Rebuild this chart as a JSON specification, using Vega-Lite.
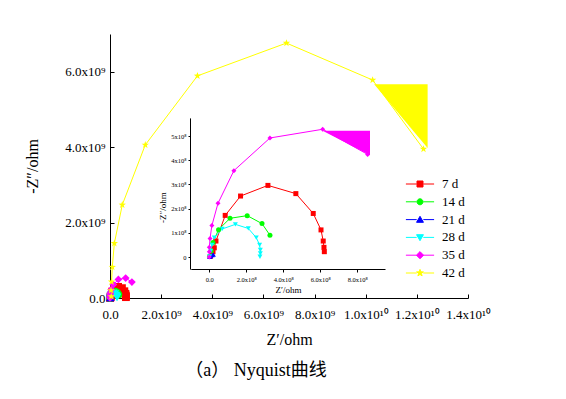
{
  "$schema": "https://vega.github.io/schema/vega-lite/v6.json",
  "width": 358,
  "height": 264,
  "autosize": {"type": "none"},
  "padding": {"left": 110, "top": 34, "right": 98, "bottom": 101},
  "background": "white",
  "config": {
    "view": {"stroke": null},
    "font": "Liberation Serif",
    "axis": {"grid": false, "domainColor": "black", "tickColor": "black", "labelColor": "black", "titleColor": "black", "labelFont": "Liberation Serif", "titleFont": "Liberation Serif", "titleFontWeight": "normal", "domainWidth": 1, "tickWidth": 1, "labelFlush": false, "labelOverlap": false}
  },
  "title": {"text": "（a）     Nyquist曲线", "orient": "bottom", "anchor": "middle", "frame": "group", "offset": 15, "dx": -33, "fontSize": 18, "font": "Liberation Serif, Noto Sans CJK SC", "fontWeight": "normal", "color": "black"},
  "datasets": {
    "nyq": [
      {"s": "7 d", "x": 0.05e8, "y": 0.02e8},
      {"s": "7 d", "x": 0.12e8, "y": 0.10e8},
      {"s": "7 d", "x": 0.20e8, "y": 0.22e8},
      {"s": "7 d", "x": 0.27e8, "y": 0.38e8},
      {"s": "7 d", "x": 0.36e8, "y": 0.66e8},
      {"s": "7 d", "x": 0.86e8, "y": 1.72e8},
      {"s": "7 d", "x": 1.69e8, "y": 2.52e8},
      {"s": "7 d", "x": 3.17e8, "y": 2.96e8},
      {"s": "7 d", "x": 4.68e8, "y": 2.62e8},
      {"s": "7 d", "x": 5.62e8, "y": 1.80e8},
      {"s": "7 d", "x": 6.04e8, "y": 1.12e8},
      {"s": "7 d", "x": 6.16e8, "y": 0.66e8},
      {"s": "7 d", "x": 6.20e8, "y": 0.40e8},
      {"s": "7 d", "x": 6.22e8, "y": 0.22e8},
      {"s": "14 d", "x": 0.03e8, "y": 0.03e8},
      {"s": "14 d", "x": 0.10e8, "y": 0.25e8},
      {"s": "14 d", "x": 0.20e8, "y": 0.60e8},
      {"s": "14 d", "x": 0.50e8, "y": 1.13e8},
      {"s": "14 d", "x": 1.12e8, "y": 1.60e8},
      {"s": "14 d", "x": 2.05e8, "y": 1.71e8},
      {"s": "14 d", "x": 2.85e8, "y": 1.38e8},
      {"s": "14 d", "x": 3.28e8, "y": 0.90e8},
      {"s": "21 d", "x": 0.02e8, "y": 0.01e8},
      {"s": "21 d", "x": 0.08e8, "y": 0.04e8},
      {"s": "21 d", "x": 0.16e8, "y": 0.08e8},
      {"s": "21 d", "x": 0.22e8, "y": 0.10e8},
      {"s": "28 d", "x": 0.02e8, "y": 0.02e8},
      {"s": "28 d", "x": 0.08e8, "y": 0.25e8},
      {"s": "28 d", "x": 0.15e8, "y": 0.50e8},
      {"s": "28 d", "x": 0.27e8, "y": 0.80e8},
      {"s": "28 d", "x": 0.70e8, "y": 1.16e8},
      {"s": "28 d", "x": 1.41e8, "y": 1.35e8},
      {"s": "28 d", "x": 2.11e8, "y": 1.18e8},
      {"s": "28 d", "x": 2.54e8, "y": 0.80e8},
      {"s": "28 d", "x": 2.72e8, "y": 0.50e8},
      {"s": "28 d", "x": 2.76e8, "y": 0.29e8},
      {"s": "28 d", "x": 2.76e8, "y": 0.15e8},
      {"s": "28 d", "x": 2.74e8, "y": 0.01e8},
      {"s": "35 d", "x": 0.0, "y": 0.0},
      {"s": "35 d", "x": 0.0, "y": 0.22e8},
      {"s": "35 d", "x": 0.0, "y": 0.40e8},
      {"s": "35 d", "x": 0.04e8, "y": 0.77e8},
      {"s": "35 d", "x": 0.14e8, "y": 1.30e8},
      {"s": "35 d", "x": 0.47e8, "y": 2.22e8},
      {"s": "35 d", "x": 1.33e8, "y": 3.57e8},
      {"s": "35 d", "x": 3.28e8, "y": 4.92e8},
      {"s": "35 d", "x": 6.13e8, "y": 5.28e8},
      {"s": "35 d", "x": 8.56e8, "y": 4.24e8},
      {"s": "42 d", "x": 0.05e9, "y": 0.04e9},
      {"s": "42 d", "x": 0.04e9, "y": 0.20e9},
      {"s": "42 d", "x": 0.06e9, "y": 0.43e9},
      {"s": "42 d", "x": 0.09e9, "y": 0.82e9},
      {"s": "42 d", "x": 0.17e9, "y": 1.45e9},
      {"s": "42 d", "x": 0.48e9, "y": 2.47e9},
      {"s": "42 d", "x": 1.38e9, "y": 4.06e9},
      {"s": "42 d", "x": 3.42e9, "y": 5.89e9},
      {"s": "42 d", "x": 6.90e9, "y": 6.76e9},
      {"s": "42 d", "x": 10.27e9, "y": 5.78e9},
      {"s": "42 d", "x": 12.26e9, "y": 3.95e9}
    ],
    "fillMain": [
      {"x": 10.33e9, "y": 5.67e9, "y2": 5.67e9},
      {"x": 12.42e9, "y": 3.98e9, "y2": 5.67e9}
    ],
    "fillInset": [
      {"x": 6.13e8, "y": 5.22e8, "y2": 5.22e8},
      {"x": 8.69e8, "y": 4.21e8, "y2": 5.22e8}
    ]
  },
  "layer": [
    {
      "layer": [
        {
          "data": {"name": "fillMain"},
          "mark": {"type": "area", "color": "#FFFF00", "opacity": 1},
          "encoding": {
            "x": {"field": "x", "type": "quantitative", "scale": {"domain": [0, 1.4e10], "nice": false, "zero": false},
              "axis": {"orient": "bottom", "title": "Z′/ohm", "values": [0, 1e9, 2e9, 3e9, 4e9, 5e9, 6e9, 7e9, 8e9, 9e9, 1e10, 1.1e10, 1.2e10, 1.3e10, 1.4e10],
                "labelExpr": "datum.value == 0 ? '0.0' : (datum.value % 2e9 != 0 ? '' : (datum.value < 1e10 ? format(datum.value/1e9, '.1f') + 'x10⁹' : format(datum.value/1e10, '.1f') + 'x10¹⁰'))",
                "labelOverlap": false, "tickSize": -4, "labelPadding": 14, "labelFontSize": 13, "titleFontSize": 16, "titlePadding": 10}},
            "y": {"field": "y", "type": "quantitative", "scale": {"domain": [0, 7e9], "nice": false, "zero": false},
              "axis": {"orient": "left", "title": "-Z″/ohm", "values": [0, 1e9, 2e9, 3e9, 4e9, 5e9, 6e9, 7e9],
                "labelExpr": "datum.value == 0 ? '0.0' : (datum.value % 2e9 != 0 ? '' : format(datum.value/1e9, '.1f') + 'x10⁹')",
                "labelOverlap": false, "tickSize": -4, "labelPadding": 9, "labelFontSize": 13, "titleFontSize": 16, "titlePadding": 24}},
            "y2": {"field": "y2"}
          }
        },
        {
          "data": {"name": "nyq"},
          "mark": {"type": "line", "strokeWidth": 1},
          "encoding": {
            "x": {"field": "x", "type": "quantitative"},
            "y": {"field": "y", "type": "quantitative"},
            "color": {"field": "s", "type": "nominal", "scale": {"domain": ["7 d", "14 d", "21 d", "28 d", "35 d", "42 d"], "range": ["#FF0000", "#00FF00", "#0000FF", "#00FFFF", "#FF00FF", "#FFFF00"]}, "legend": null},
            "order": {"value": null}
          }
        },
        {
          "data": {"name": "nyq"},
          "mark": {"type": "point", "filled": true, "size": 60, "opacity": 1},
          "encoding": {
            "x": {"field": "x", "type": "quantitative"},
            "y": {"field": "y", "type": "quantitative"},
            "color": {"field": "s", "type": "nominal", "scale": {"domain": ["7 d", "14 d", "21 d", "28 d", "35 d", "42 d"], "range": ["#FF0000", "#00FF00", "#0000FF", "#00FFFF", "#FF00FF", "#FFFF00"]}, "legend": null},
            "shape": {"field": "s", "type": "nominal", "scale": {"domain": ["7 d", "14 d", "21 d", "28 d", "35 d", "42 d"], "range": ["square", "circle", "triangle-up", "triangle-down", "diamond", "M0,-1L0.235,-0.324L0.951,-0.309L0.38,0.124L0.588,0.809L0,0.4L-0.588,0.809L-0.38,0.124L-0.951,-0.309L-0.235,-0.324Z"]}, "legend": null}
          }
        }
      ]
    },
    {
      "layer": [
        {
          "data": {"name": "fillInset"},
          "mark": {"type": "area", "color": "#FF00FF", "opacity": 1},
          "encoding": {
            "x": {"field": "x", "type": "quantitative", "scale": {"domain": [-1e8, 9.5e8], "range": [80.8, 275], "nice": false, "zero": false},
              "axis": {"orient": "bottom", "offset": -29, "zindex": 1, "title": "Z′/ohm", "values": [0, 1e8, 2e8, 3e8, 4e8, 5e8, 6e8, 7e8, 8e8, 9e8],
                "labelExpr": "datum.value == 0 ? '0.0' : (datum.value % 2e8 != 0 ? '' : format(datum.value/1e8, '.1f') + 'x10⁸')",
                "labelOverlap": false, "tickSize": 3, "labelPadding": 4, "labelFontSize": 6.5, "titleFontSize": 9, "titlePadding": 3}},
            "y": {"field": "y", "type": "quantitative", "scale": {"domain": [-0.5e8, 5.75e8], "range": [235.1, 83.9], "nice": false, "zero": false},
              "axis": {"orient": "left", "offset": -80, "zindex": 1, "title": "-Z″/ohm", "titleY": 173, "values": [0, 0.5e8, 1e8, 1.5e8, 2e8, 2.5e8, 3e8, 3.5e8, 4e8, 4.5e8, 5e8, 5.5e8],
                "labelExpr": "datum.value == 0 ? '0' : (datum.value % 1e8 != 0 ? '' : format(datum.value/1e8, 'd') + 'x10⁸')",
                "labelOverlap": false, "tickSize": 2, "labelPadding": 2, "labelFontSize": 6.5, "titleFontSize": 9, "titlePadding": 3}},
            "y2": {"field": "y2"}
          }
        },
        {
          "data": {"name": "nyq"},
          "transform": [{"filter": "datum.s != '42 d'"}],
          "mark": {"type": "line", "strokeWidth": 1},
          "encoding": {
            "x": {"field": "x", "type": "quantitative"},
            "y": {"field": "y", "type": "quantitative"},
            "color": {"field": "s", "type": "nominal", "scale": {"domain": ["7 d", "14 d", "21 d", "28 d", "35 d", "42 d"], "range": ["#FF0000", "#00FF00", "#0000FF", "#00FFFF", "#FF00FF", "#FFFF00"]}, "legend": null},
            "order": {"value": null}
          }
        },
        {
          "data": {"name": "nyq"},
          "transform": [{"filter": "datum.s != '42 d'"}],
          "mark": {"type": "point", "filled": true, "size": 25, "opacity": 1},
          "encoding": {
            "x": {"field": "x", "type": "quantitative"},
            "y": {"field": "y", "type": "quantitative"},
            "color": {"field": "s", "type": "nominal", "scale": {"domain": ["7 d", "14 d", "21 d", "28 d", "35 d", "42 d"], "range": ["#FF0000", "#00FF00", "#0000FF", "#00FFFF", "#FF00FF", "#FFFF00"]}, "legend": null},
            "shape": {"field": "s", "type": "nominal", "scale": {"domain": ["7 d", "14 d", "21 d", "28 d", "35 d", "42 d"], "range": ["square", "circle", "triangle-up", "triangle-down", "diamond", "M0,-1L0.235,-0.324L0.951,-0.309L0.38,0.124L0.588,0.809L0,0.4L-0.588,0.809L-0.38,0.124L-0.951,-0.309L-0.235,-0.324Z"]}, "legend": null}
          }
        }
      ],
      "resolve": {"scale": {"color": "independent", "shape": "independent"}}
    },
    {
      "data": {"name": "nyq"},
      "mark": {"type": "point", "filled": true, "opacity": 0},
      "encoding": {
        "color": {"field": "s", "type": "nominal", "scale": {"domain": ["7 d", "14 d", "21 d", "28 d", "35 d", "42 d"], "range": ["#FF0000", "#00FF00", "#0000FF", "#00FFFF", "#FF00FF", "#FFFF00"]},
          "legend": {"orient": "none", "legendX": 303.5, "legendY": 143.5, "direction": "vertical", "title": null, "symbolSize": 36, "symbolStrokeWidth": 1, "symbolOpacity": 1, "labelFont": "Liberation Serif", "labelFontSize": 13, "labelColor": "black", "labelOffset": 15.5, "rowPadding": 3.8, "padding": 0, "labelLimit": 0}},
        "stroke": {"field": "s", "type": "nominal", "scale": {"domain": ["7 d", "14 d", "21 d", "28 d", "35 d", "42 d"], "range": ["#FF0000", "#00FF00", "#0000FF", "#00FFFF", "#FF00FF", "#FFFF00"]},
          "legend": {"orient": "none", "legendX": 303.5, "legendY": 143.5, "direction": "vertical", "title": null, "symbolSize": 36, "symbolStrokeWidth": 1, "symbolOpacity": 1, "labelFont": "Liberation Serif", "labelFontSize": 13, "labelColor": "black", "labelOffset": 15.5, "rowPadding": 3.8, "padding": 0, "labelLimit": 0}},
        "shape": {"field": "s", "type": "nominal", "scale": {"domain": ["7 d", "14 d", "21 d", "28 d", "35 d", "42 d"], "range": [
          "M-4.7,0H-1.1M1.1,0H4.7M-1,-1H1V1H-1Z",
          "M-4.7,0H-1.1M1.1,0H4.7M-1,0A1,1,0,1,0,1,0A1,1,0,1,0,-1,0Z",
          "M-4.7,0H-1.1M1.1,0H4.7M0,-1.1L1.15,0.9H-1.15Z",
          "M-4.7,0H-1.1M1.1,0H4.7M0,1.1L1.15,-0.9H-1.15Z",
          "M-4.7,0H-1.1M1.1,0H4.7M0,-1.2L1.2,0L0,1.2L-1.2,0Z",
          "M-4.7,0H-1.1M1.1,0H4.7M0,-1.2L0.282,-0.389L1.141,-0.371L0.456,0.149L0.706,0.971L0,0.48L-0.706,0.971L-0.456,0.149L-1.141,-0.371L-0.282,-0.389Z"]},
          "legend": {"orient": "none", "legendX": 303.5, "legendY": 143.5, "direction": "vertical", "title": null, "symbolSize": 36, "symbolStrokeWidth": 1, "symbolOpacity": 1, "labelFont": "Liberation Serif", "labelFontSize": 13, "labelColor": "black", "labelOffset": 15.5, "rowPadding": 3.8, "padding": 0, "labelLimit": 0}}
      }
    }
  ],
  "resolve": {"scale": {"x": "independent", "y": "independent", "color": "independent", "shape": "independent", "stroke": "independent"}}
}
